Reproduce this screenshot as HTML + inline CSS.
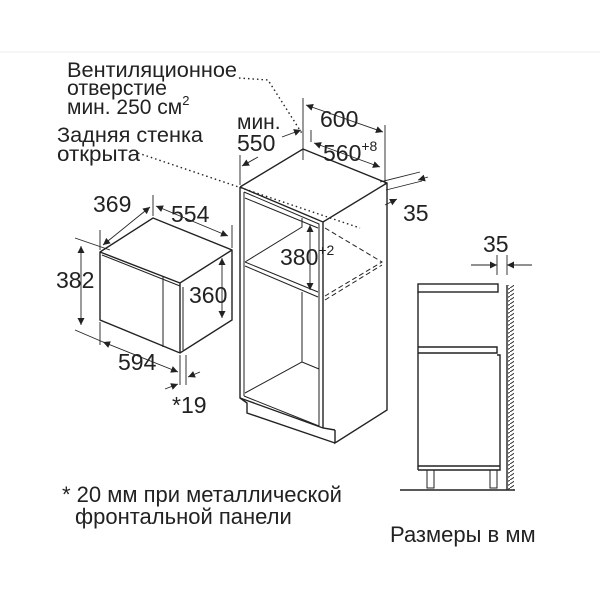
<!DOCTYPE html>
<html><head><meta charset="utf-8"><style>
html,body{margin:0;padding:0;background:#fff;}
svg{display:block;}
text{font-family:"Liberation Sans",sans-serif;fill:#222;}
</style></head><body>
<svg width="600" height="600" viewBox="0 0 600 600" xmlns="http://www.w3.org/2000/svg">
<defs>
<marker id="a" viewBox="0 0 10 10" refX="10" refY="5" markerWidth="9" markerHeight="7" orient="auto-start-reverse" markerUnits="userSpaceOnUse"><path d="M0,0 L10,5 L0,10 z" fill="#222"/></marker>
<pattern id="h" width="6" height="4" patternUnits="userSpaceOnUse"><path d="M0,4 L6,0" stroke="#333" stroke-width="1"/></pattern>
</defs>
<line x1="0" y1="52" x2="600" y2="52" stroke="#eee"/>
<g stroke="#222" stroke-width="1.4" fill="none">
<!-- microwave -->
<path d="M100,252 L153,218 L232,250 L232,320 L180,353 L100,320 Z"/>
<path d="M100,252 L180,283 L232,250 M180,283 L180,353"/>
<path d="M102,255 L180,286" stroke-width="1"/>
<path d="M163,277 L163,347 M183,287 L183,350" stroke-width="1"/>
<!-- microwave dims -->
<path d="M100,250 V230 M153,216 V195 M232,248 V225 M100,322 V345 M180,355 V385 M186,355 V385" stroke-width="0.9"/>
<path d="M75,238 L110,250 M75,330 L110,345" stroke-width="0.9"/>
<line x1="103" y1="245" x2="150" y2="207" marker-start="url(#a)" marker-end="url(#a)" stroke-width="0.9"/>
<line x1="156" y1="206" x2="228" y2="236" marker-start="url(#a)" marker-end="url(#a)" stroke-width="0.9"/>
<line x1="81" y1="246" x2="81" y2="325" marker-start="url(#a)" marker-end="url(#a)" stroke-width="0.9"/>
<line x1="222" y1="258" x2="222" y2="318" marker-start="url(#a)" marker-end="url(#a)" stroke-width="0.9"/>
<line x1="103" y1="342" x2="178" y2="372" marker-start="url(#a)" marker-end="url(#a)" stroke-width="0.9"/>
<line x1="200" y1="372" x2="188" y2="377" marker-end="url(#a)" stroke-width="0.9"/>
<line x1="165" y1="389" x2="178" y2="384" marker-end="url(#a)" stroke-width="0.9"/>
<!-- cabinet outer -->
<path d="M240,187 L303,149 L387,183 L387,410 L335,443 L335,430 M240,187 L240,398 L247,403 L247,413 L335,443"/>
<path d="M240,187 L323,222 L387,183 M323,222 L323,428 M240,398 L323,428 L335,430"/>
<path d="M244,192 L244,396 M244,192 L319,224 L319,426 M244,396 L319,426" stroke-width="1"/>
<path d="M245,198 L318,228" stroke-width="1"/>
<path d="M302,218 L302,227 L245,262 M245,262 L318,292 M245,266 L318,297" stroke-width="1"/>
<path d="M302,292 L302,362 L245,393 M302,362 L319,369" stroke-width="1"/>
<path d="M325,228 L382,262 L325,296 M325,300 L382,265" stroke-dasharray="5,3" stroke-width="1"/>
<path d="M303,160 L303,98 M385,185 L385,125 M311,142 L311,130 M240,185 L240,155" stroke-width="0.9"/>
<path d="M380,182 L420,172 M386,190 L422,181" stroke-width="0.9"/>
<line x1="306" y1="105" x2="383" y2="132" marker-start="url(#a)" marker-end="url(#a)" stroke-width="0.9"/>
<line x1="314" y1="143" x2="380" y2="167" marker-start="url(#a)" marker-end="url(#a)" stroke-width="0.9"/>
<line x1="282" y1="137" x2="301" y2="130" marker-end="url(#a)" stroke-width="0.9"/>
<line x1="258" y1="157" x2="242" y2="166" marker-end="url(#a)" stroke-width="0.9"/>
<line x1="428" y1="177" x2="418" y2="180" marker-end="url(#a)" stroke-width="0.9"/>
<line x1="385" y1="205" x2="397" y2="199" marker-end="url(#a)" stroke-width="0.9"/>
<line x1="310" y1="225" x2="310" y2="290" marker-start="url(#a)" marker-end="url(#a)" stroke-width="0.9"/>
<path d="M239,78 L268,80 L303,135" stroke-dasharray="1.5,3" stroke-width="1.4"/>
<path d="M138,153 L360,228" stroke-dasharray="1.5,3" stroke-width="1.4"/>
<!-- side view -->
<rect x="418" y="284" width="80" height="8"/>
<path d="M418,292 V470 M418,347 H497 V353 H418 M497,355 H500 V470 M418,466 H500 V470 H418"/>
<path d="M427,470 V488 H434 V470 M490,470 V488 H497 V470" stroke-width="1"/>
<line x1="400" y1="490" x2="515" y2="490"/>
<line x1="507" y1="285" x2="507" y2="490"/>
<line x1="497" y1="255" x2="497" y2="275" stroke-width="0.9"/>
<line x1="507" y1="255" x2="507" y2="275" stroke-width="0.9"/>
<line x1="471" y1="265" x2="497" y2="265" marker-end="url(#a)" stroke-width="0.9"/>
<line x1="532" y1="265" x2="507" y2="265" marker-end="url(#a)" stroke-width="0.9"/>
</g>
<rect x="508" y="285" width="6" height="205" fill="url(#h)"/>
<g font-size="21">
<text x="67" y="77" textLength="170" lengthAdjust="spacingAndGlyphs">Вентиляционное</text>
<text x="67" y="95" textLength="100" lengthAdjust="spacingAndGlyphs">отверстие</text>
<text x="67" y="114">мин. 250 см<tspan font-size="13" dy="-9">2</tspan></text>
<text x="57" y="142" textLength="146" lengthAdjust="spacingAndGlyphs">Задняя стенка</text>
<text x="57" y="161" textLength="83" lengthAdjust="spacingAndGlyphs">открыта</text>
</g>
<g font-size="23">
<text x="237" y="129" font-size="21">мин.</text>
<text x="237" y="151">550</text>
<text x="320" y="127">600</text>
<text x="323" y="161">560<tspan font-size="14" dy="-10">+8</tspan></text>
<text x="403" y="221">35</text>
<text x="93" y="212">369</text>
<text x="171" y="222">554</text>
<text x="56" y="288">382</text>
<text x="189" y="303">360</text>
<text x="118" y="370">594</text>
<text x="172" y="413">*19</text>
<text x="280" y="265">380<tspan font-size="14" dy="-10">+2</tspan></text>
<text x="483" y="252">35</text>
</g>
<g font-size="22">
<text x="62" y="502">* 20 мм при металлической</text>
<text x="75" y="524">фронтальной панели</text>
<text x="390" y="542">Размеры в мм</text>
</g>
</svg>
</body></html>
